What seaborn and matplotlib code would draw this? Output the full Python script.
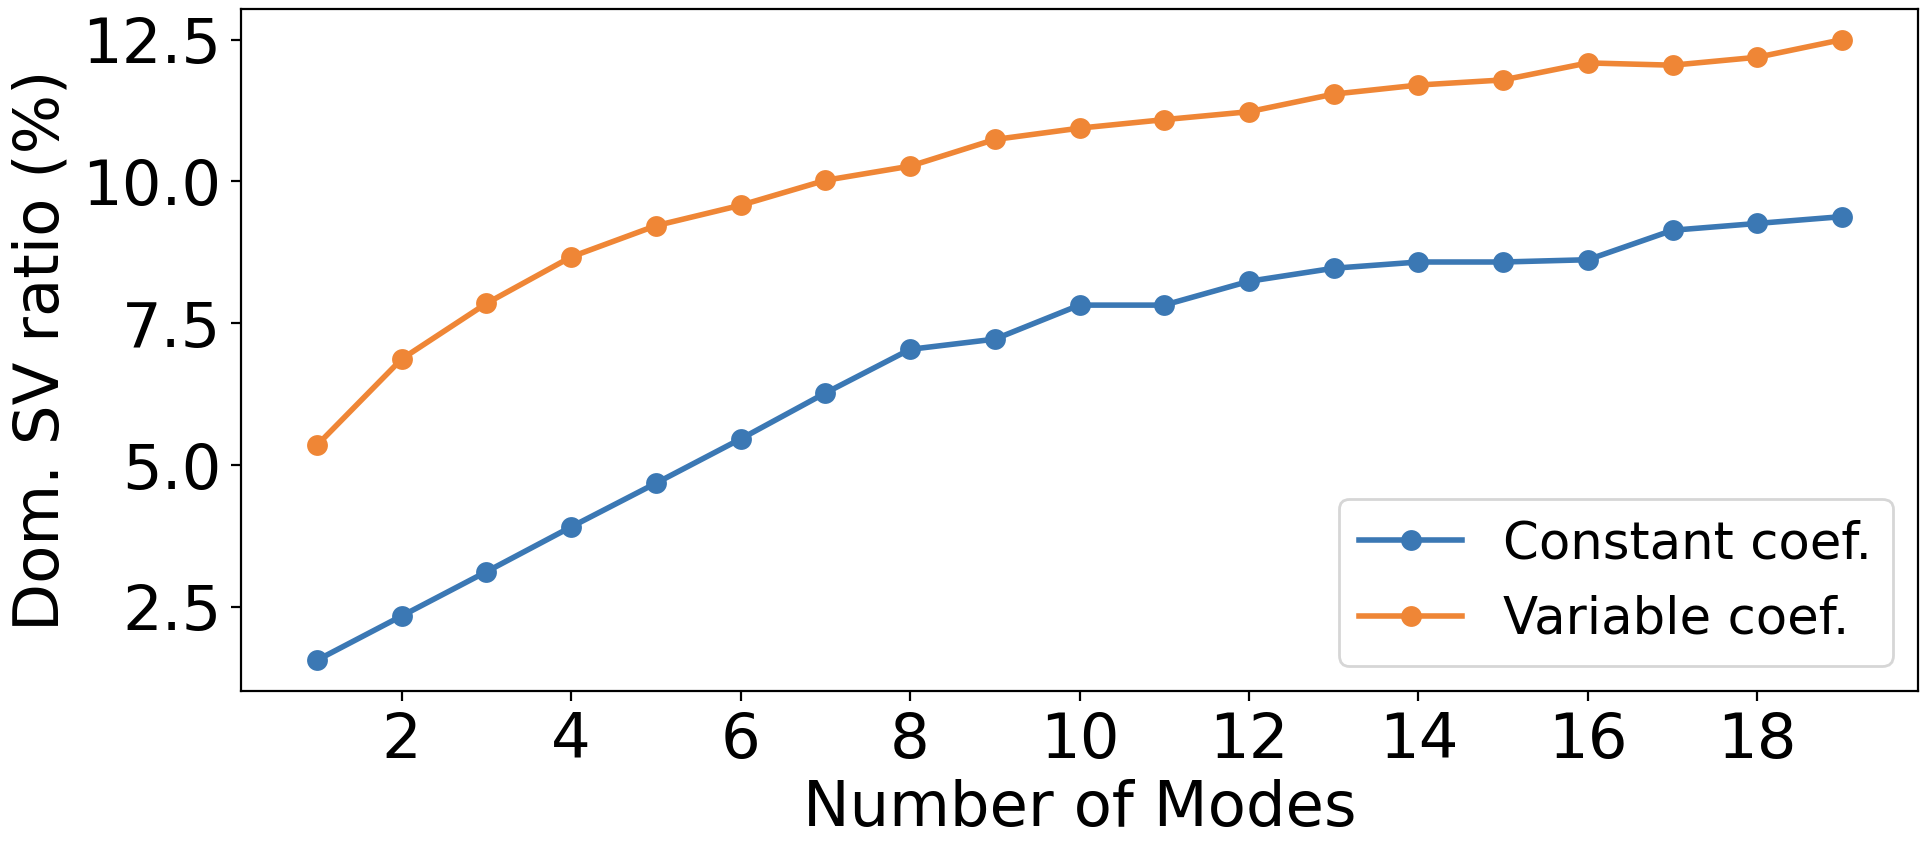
import pandas as pd
import matplotlib
matplotlib.use("Agg")
import matplotlib.pyplot as plt
import seaborn as sns

# ----------------------------------------------------------
# Data
# ----------------------------------------------------------
modes = list(range(1, 20))

constant_coef = [1.56, 2.34, 3.12, 3.91, 4.68, 5.46, 6.27, 7.04, 7.22, 7.82,
                 7.82, 8.24, 8.47, 8.58, 8.58, 8.62, 9.14, 9.26, 9.38]

variable_coef = [5.35, 6.87, 7.85, 8.67, 9.22, 9.58, 10.02, 10.27, 10.74, 10.94,
                 11.09, 11.23, 11.54, 11.70, 11.79, 12.09, 12.05, 12.19, 12.50]

series_names = ["Constant coef.", "Variable coef."]
series_colors = ["#3b78b4", "#ef8636"]

df = pd.DataFrame({
    "Modes": modes,
    series_names[0]: constant_coef,
    series_names[1]: variable_coef,
})

# ----------------------------------------------------------
# Plot
# ----------------------------------------------------------
plt.rcParams['font.family'] = ['DejaVu Sans']

fig = plt.figure(figsize=(9.63, 4.32), dpi=200)
ax = fig.add_axes([0.125, 0.200, 0.871, 0.790])

for name, color in zip(series_names, series_colors):
    sns.lineplot(
        data=df,
        x="Modes",
        y=name,
        ax=ax,
        color=color,
        marker="o",
        markersize=7.5,
        markeredgewidth=0,
        linewidth=2.0,
        label=name,
    )

ax.set_xlabel("Number of Modes", fontsize=22.5, labelpad=3)
ax.set_ylabel("Dom. SV ratio (%)", fontsize=22.5)
ax.set_xticks(range(2, 20, 2))
ax.tick_params(axis="both", labelsize=22.5)

ax.legend(loc="lower right", fontsize=18.5)

fig.savefig("out.png", dpi=200)
